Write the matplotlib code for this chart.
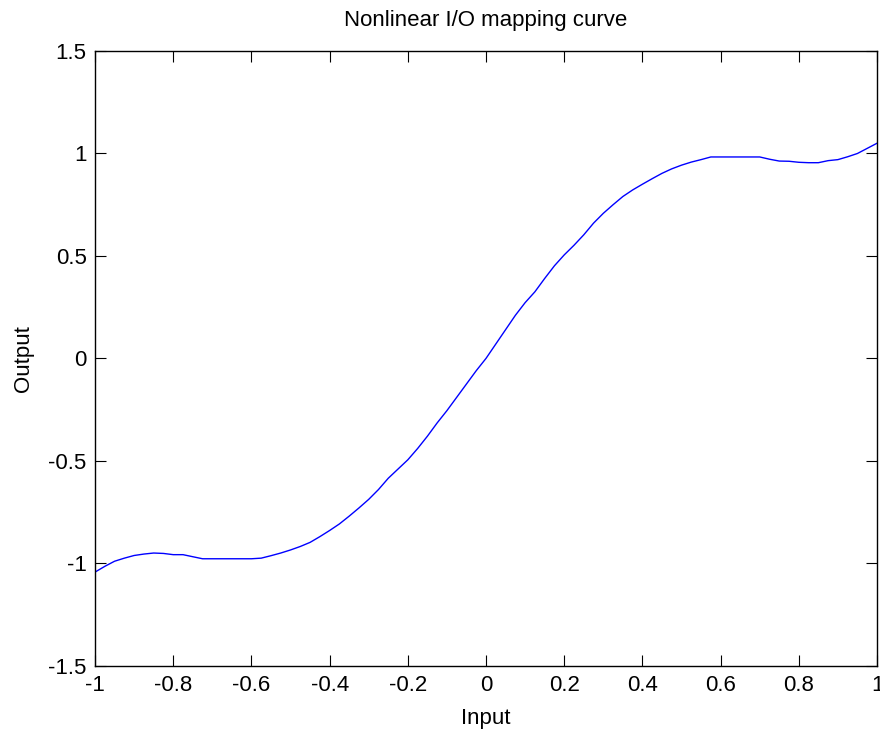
import matplotlib
matplotlib.use('Agg')
import matplotlib.pyplot as plt
import numpy as np

plt.rcParams['font.family'] = ['Liberation Sans', 'DejaVu Sans']

# input grid, step 0.025 from -1 to 1
x_in = np.linspace(-1, 1, 81)

# mapped output values
y_out = [
    -1.043, -1.015, -0.990, -0.975, -0.962, -0.955, -0.950, -0.952,
    -0.958, -0.958, -0.968, -0.978, -0.978, -0.978, -0.978, -0.978,
    -0.978, -0.975, -0.963, -0.950, -0.935, -0.918, -0.898, -0.870,
    -0.840, -0.808, -0.770, -0.730, -0.688, -0.640, -0.585, -0.540,
    -0.495, -0.440, -0.380, -0.315, -0.255, -0.190, -0.125, -0.060,
    0.000,
    0.070, 0.140, 0.210, 0.272, 0.325, 0.390, 0.452, 0.505,
    0.552, 0.603, 0.660, 0.708, 0.750, 0.790, 0.822, 0.850,
    0.877, 0.903, 0.925, 0.943, 0.958, 0.970, 0.983, 0.983,
    0.983, 0.983, 0.983, 0.983, 0.972, 0.963, 0.962, 0.957,
    0.955, 0.955, 0.965, 0.970, 0.984, 1.000, 1.025, 1.050,
]

xticks = [-1, -0.8, -0.6, -0.4, -0.2, 0, 0.2, 0.4, 0.6, 0.8, 1]
xticklabels = ['-1', '-0.8', '-0.6', '-0.4', '-0.2', '0', '0.2', '0.4', '0.6', '0.8', '1']
yticks = [-1.5, -1, -0.5, 0, 0.5, 1, 1.5]
yticklabels = ['-1.5', '-1', '-0.5', '0', '0.5', '1', '1.5']

fig = plt.figure(figsize=(8.8, 7.29), dpi=100)
ax = fig.add_axes([0.108, 0.0868, 0.8886, 0.8432])

ax.plot(x_in, y_out, color='#0000ff', linewidth=1.0)

ax.set_xlim(-1, 1)
ax.set_ylim(-1.5, 1.5)
ax.set_xticks(xticks)
ax.set_xticklabels(xticklabels)
ax.set_yticks(yticks)
ax.set_yticklabels(yticklabels)
ax.tick_params(direction='in', length=8, width=0.8, top=True, right=True,
               labelsize=16)
ax.tick_params(axis='x', pad=7)
ax.tick_params(axis='y', pad=6)
for s in ax.spines.values():
    s.set_linewidth(1.0)

ax.set_title('Nonlinear I/O mapping curve', fontsize=16, pad=18)
ax.set_xlabel('Input', fontsize=16, labelpad=8)
ax.set_ylabel('Output', fontsize=16, labelpad=10)

fig.savefig('out.png', dpi=100)
